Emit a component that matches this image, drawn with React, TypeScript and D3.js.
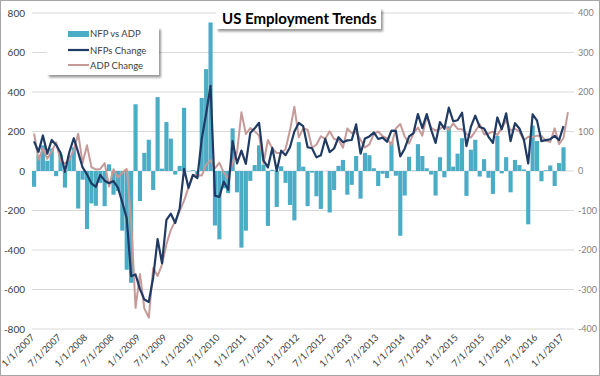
import React from 'react';
import * as d3 from 'd3';

const title = 'US Employment Trends';
const seriesNames = ['NFP vs ADP', 'NFPs Change', 'ADP Change'];

const tickLabels = [
  '1/1/2007', '7/1/2007', '1/1/2008', '7/1/2008', '1/1/2009', '7/1/2009', '1/1/2010',
  '7/1/2010', '1/1/2011', '7/1/2011', '1/1/2012', '7/1/2012', '1/1/2013', '7/1/2013',
  '1/1/2014', '7/1/2014', '1/1/2015', '7/1/2015', '1/1/2016', '7/1/2016', '1/1/2017',
];

const leftTicks = [800, 600, 400, 200, 0, -200, -400, -600, -800];
const rightTicks = [400, 300, 200, 100, 0, -100, -200, -300, -400];

// Monthly, Jan 2007 .. Jan 2017 (NFP), .. Feb 2017 (ADP)
const nfpChange = [
  150, 97, 180, 88, 157, 132, 92, -4, 96, 166, 94, 18,
  -17, -63, -80, -20, -49, -62, -51, -84, -159, -240, -533, -524,
  -598, -651, -663, -539, -345, -467, -247, -216, -263, -190, 11, -85,
  -20, -36, 162, 290, 431, -125, -131, -54, -95, 151, 39, 103,
  36, 192, 216, 244, 54, 18, 117, 0, 103, 80, 120, 200,
  243, 227, 120, 115, 69, 80, 163, 96, 114, 171, 146, 155,
  157, 236, 88, 165, 175, 195, 162, 169, 148, 204, 203, 74,
  113, 175, 192, 288, 217, 288, 209, 142, 248, 214, 321, 252,
  257, 295, 126, 223, 280, 223, 215, 173, 142, 271, 211, 292,
  151, 242, 215, 160, 38, 287, 255, 151, 156, 161, 178, 156,
  227,
];

const adpChange = [
  190, 57, 115, 62, 100, 145, 50, 38, 58, 106, 189, 40,
  130, 19, 8, 10, 40, -79, 9, -33, -8, 10, -250, -693,
  -522, -697, -742, -491, -532, -473, -371, -298, -254, -203, -150, -84,
  -22, -20, -23, 32, 55, 13, 42, -10, -39, 43, 93, 297,
  187, 217, 201, 179, 38, 157, 114, 91, 91, 110, 206, 325,
  170, 216, 209, 119, 133, 176, 163, 201, 162, 158, 118, 215,
  192, 198, 158, 119, 135, 188, 200, 176, 166, 130, 215, 238,
  175, 139, 191, 220, 179, 281, 218, 204, 213, 230, 208, 241,
  213, 212, 189, 169, 201, 237, 185, 190, 200, 182, 217, 257,
  205, 214, 200, 156, 173, 172, 179, 177, 154, 147, 216, 136,
  167, 298,
];

const nfpVsAdp = [
  -40, 40, 65, 26, 57, -13, 42, -42, 38, 60, -95, -22,
  -147, -82, -88, -30, -89, 17, -60, -51, -151, -250, -283, 169,
  -76, 46, 79, -48, 187, 6, 124, 82, -9, 13, 160, -1,
  2, -16, 185, 258, 376, -138, -173, -44, -56, 108, -54, -194,
  -151, -25, 15, 65, 16, -139, 3, -91, 12, -30, -86, -125,
  73, 11, -89, -4, -64, -96, 0, -105, -48, 13, 28, -60,
  -35, 38, -70, 46, 40, 7, -38, -7, -18, 74, -12, -164,
  -62, 36, 1, 68, 38, 7, -9, -62, 35, -16, 113, 11,
  44, 83, -63, 54, 79, -14, 30, -17, -58, 89, -6, 35,
  -54, 28, 15, 4, -135, 115, 76, -26, 2, 14, -38, 20,
  60,
];

const BAR = '#4bacc6';
const NFP = '#1f3a63';
const ADP = '#c69a98';
const FONT = 'Lato, "Open Sans", sans-serif';

export default function App() {
  const W = 600;
  const H = 376;
  const plotL = 32;
  const plotR = 574;

  const months = d3.range(adpChange.length);
  const x = d3.scaleBand<number>().domain(months).range([32, 570]).paddingInner(0.06);
  const cx = (i: number) => (x(i) as number) + x.bandwidth() / 2;

  const yL = d3.scaleLinear().domain([-800, 800]).range([329, 13]);
  const yR = d3.scaleLinear().domain([-400, 400]).range([329, 13]);

  const line = d3
    .line<number>()
    .x((_, i) => cx(i))
    .y((d) => yL(d));

  return (
    <svg
      width={W}
      height={H}
      style={{ position: 'absolute', left: 0, top: 0, display: 'block', background: '#fff' }}
      fontFamily={FONT}
    >
      <defs>
        <filter id="shadow" x="-10%" y="-20%" width="130%" height="160%">
          <feDropShadow dx="2" dy="2.5" stdDeviation="1.3" floodColor="#000" floodOpacity="0.4" />
        </filter>
      </defs>
      <rect x={0} y={0} width={W} height={H} fill="#fff" />

      {/* gridlines */}
      {leftTicks.map((t) => (
        <line key={t} x1={plotL} x2={plotR} y1={yL(t)} y2={yL(t)} stroke="#d9d9d9" strokeWidth={1} />
      ))}

      {/* left axis labels */}
      {leftTicks.map((t) => (
        <text key={t} x={25} y={yL(t) + 3.5} textAnchor="end" fontSize={10} fill="#404040">
          {t}
        </text>
      ))}

      {/* right axis labels */}
      {rightTicks.map((t) => (
        <text key={t} x={578} y={yR(t) + 3} textAnchor="start" fontSize={9} fill="#7f7f7f">
          {t}
        </text>
      ))}

      {/* bars */}
      {nfpVsAdp.map((v, i) => (
        <rect
          key={i}
          x={x(i)}
          y={Math.min(yR(v), yR(0))}
          width={x.bandwidth()}
          height={Math.abs(yR(v) - yR(0))}
          fill={BAR}
        />
      ))}

      {/* lines */}
      <path d={line(adpChange) || ''} fill="none" stroke={ADP} strokeWidth={2} strokeLinejoin="round" />
      <path d={line(nfpChange) || ''} fill="none" stroke={NFP} strokeWidth={2.2} strokeLinejoin="round" />

      {/* x labels */}
      {tickLabels.map((lab, k) => {
        const i = k * 6;
        return (
          <text
            key={lab}
            transform={`translate(${cx(i) + 1},${338}) rotate(-45)`}
            textAnchor="end"
            fontSize={9.5}
            fill="#404040"
          >
            {lab}
          </text>
        );
      })}

      {/* legend */}
      <rect x={47} y={27} width={112} height={48} fill="#fff" filter="url(#shadow)" />
      <rect x={68} y={31} width={21} height={6} fill={BAR} />
      <text x={90} y={37} fontSize={9.5} fill="#404040">{seriesNames[0]}</text>
      <line x1={68} x2={89} y1={50} y2={50} stroke={NFP} strokeWidth={2.2} />
      <text x={90} y={53.5} fontSize={9.5} fill="#404040">{seriesNames[1]}</text>
      <line x1={68} x2={89} y1={65} y2={65} stroke={ADP} strokeWidth={2} />
      <text x={90} y={68.5} fontSize={9.5} fill="#404040">{seriesNames[2]}</text>

      {/* title */}
      <rect x={216} y={8} width={165} height={21} fill="#fff" filter="url(#shadow)" />
      <text x={222} y={24} fontSize={15} fontWeight="bold" fill="#000">
        {title}
      </text>

      {/* frame */}
      <rect x={0.5} y={0.5} width={W - 1} height={H - 1} fill="none" stroke="#a6a6a6" strokeWidth={1} />
    </svg>
  );
}
